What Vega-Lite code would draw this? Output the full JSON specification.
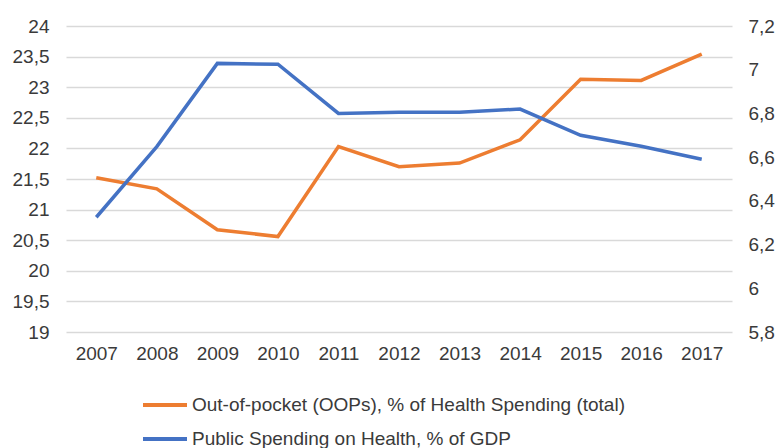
{
  "$schema": "https://vega.github.io/schema/vega-lite/v6.json",
  "width": 666,
  "height": 306,
  "autosize": {"type": "none"},
  "padding": {"left": 66, "top": 26, "right": 46, "bottom": 116},
  "background": "white",
  "config": {
    "view": {"stroke": null},
    "font": "Liberation Sans",
    "axis": {"labelFont": "Liberation Sans", "labelColor": "#3a3a3a", "labelFontSize": 19, "ticks": false, "domain": false, "gridColor": "#d9d9d9", "gridWidth": 1.5}
  },
  "data": {
    "values": [
      {"year": "2007", "series": "Out-of-pocket (OOPs), % of Health Spending (total)", "value": 21.52},
      {"year": "2008", "series": "Out-of-pocket (OOPs), % of Health Spending (total)", "value": 21.34},
      {"year": "2009", "series": "Out-of-pocket (OOPs), % of Health Spending (total)", "value": 20.67},
      {"year": "2010", "series": "Out-of-pocket (OOPs), % of Health Spending (total)", "value": 20.56},
      {"year": "2011", "series": "Out-of-pocket (OOPs), % of Health Spending (total)", "value": 22.03},
      {"year": "2012", "series": "Out-of-pocket (OOPs), % of Health Spending (total)", "value": 21.70},
      {"year": "2013", "series": "Out-of-pocket (OOPs), % of Health Spending (total)", "value": 21.76},
      {"year": "2014", "series": "Out-of-pocket (OOPs), % of Health Spending (total)", "value": 22.14},
      {"year": "2015", "series": "Out-of-pocket (OOPs), % of Health Spending (total)", "value": 23.13},
      {"year": "2016", "series": "Out-of-pocket (OOPs), % of Health Spending (total)", "value": 23.11},
      {"year": "2017", "series": "Out-of-pocket (OOPs), % of Health Spending (total)", "value": 23.54},
      {"year": "2007", "series": "Public Spending on Health, % of GDP", "value": 6.325},
      {"year": "2008", "series": "Public Spending on Health, % of GDP", "value": 6.648},
      {"year": "2009", "series": "Public Spending on Health, % of GDP", "value": 7.029},
      {"year": "2010", "series": "Public Spending on Health, % of GDP", "value": 7.025},
      {"year": "2011", "series": "Public Spending on Health, % of GDP", "value": 6.80},
      {"year": "2012", "series": "Public Spending on Health, % of GDP", "value": 6.805},
      {"year": "2013", "series": "Public Spending on Health, % of GDP", "value": 6.805},
      {"year": "2014", "series": "Public Spending on Health, % of GDP", "value": 6.82},
      {"year": "2015", "series": "Public Spending on Health, % of GDP", "value": 6.70},
      {"year": "2016", "series": "Public Spending on Health, % of GDP", "value": 6.65},
      {"year": "2017", "series": "Public Spending on Health, % of GDP", "value": 6.59}
    ]
  },
  "encoding": {
    "x": {"field": "year", "type": "ordinal", "scale": {"type": "point", "padding": 0.5}, "axis": {"title": null, "labelAngle": 0, "labelPadding": 12, "grid": false}},
    "color": {
      "field": "series", "type": "nominal",
      "scale": {"domain": ["Out-of-pocket (OOPs), % of Health Spending (total)", "Public Spending on Health, % of GDP"], "range": ["#ED7D31", "#4472C4"]},
      "legend": {"title": null, "orient": "none", "legendX": 75, "legendY": 355, "direction": "vertical", "symbolType": "stroke", "symbolSize": 1936, "symbolStrokeWidth": 4, "labelFont": "Liberation Sans", "labelFontSize": 19, "labelColor": "#3a3a3a", "labelOffset": 3, "rowPadding": -14, "labelLimit": 700}
    }
  },
  "layer": [
    {
      "transform": [{"filter": "datum.series === 'Out-of-pocket (OOPs), % of Health Spending (total)'"}],
      "mark": {"type": "line", "strokeWidth": 3.5},
      "encoding": {
        "y": {"field": "value", "type": "quantitative", "scale": {"domain": [19, 24], "nice": false, "zero": false}, "axis": {"title": null, "values": [19, 19.5, 20, 20.5, 21, 21.5, 22, 22.5, 23, 23.5, 24], "labelPadding": 17, "labelExpr": "replace(toString(datum.value), '.', ',')", "grid": true}}
      }
    },
    {
      "transform": [{"filter": "datum.series === 'Public Spending on Health, % of GDP'"}],
      "mark": {"type": "line", "strokeWidth": 3.5},
      "encoding": {
        "y": {"field": "value", "type": "quantitative", "scale": {"domain": [5.8, 7.2], "nice": false, "zero": false}, "axis": {"title": null, "orient": "right", "values": [5.8, 6, 6.2, 6.4, 6.6, 6.8, 7, 7.2], "labelPadding": 16, "labelExpr": "replace(toString(datum.value), '.', ',')", "grid": false}}
      }
    }
  ],
  "resolve": {"scale": {"y": "independent"}}
}
